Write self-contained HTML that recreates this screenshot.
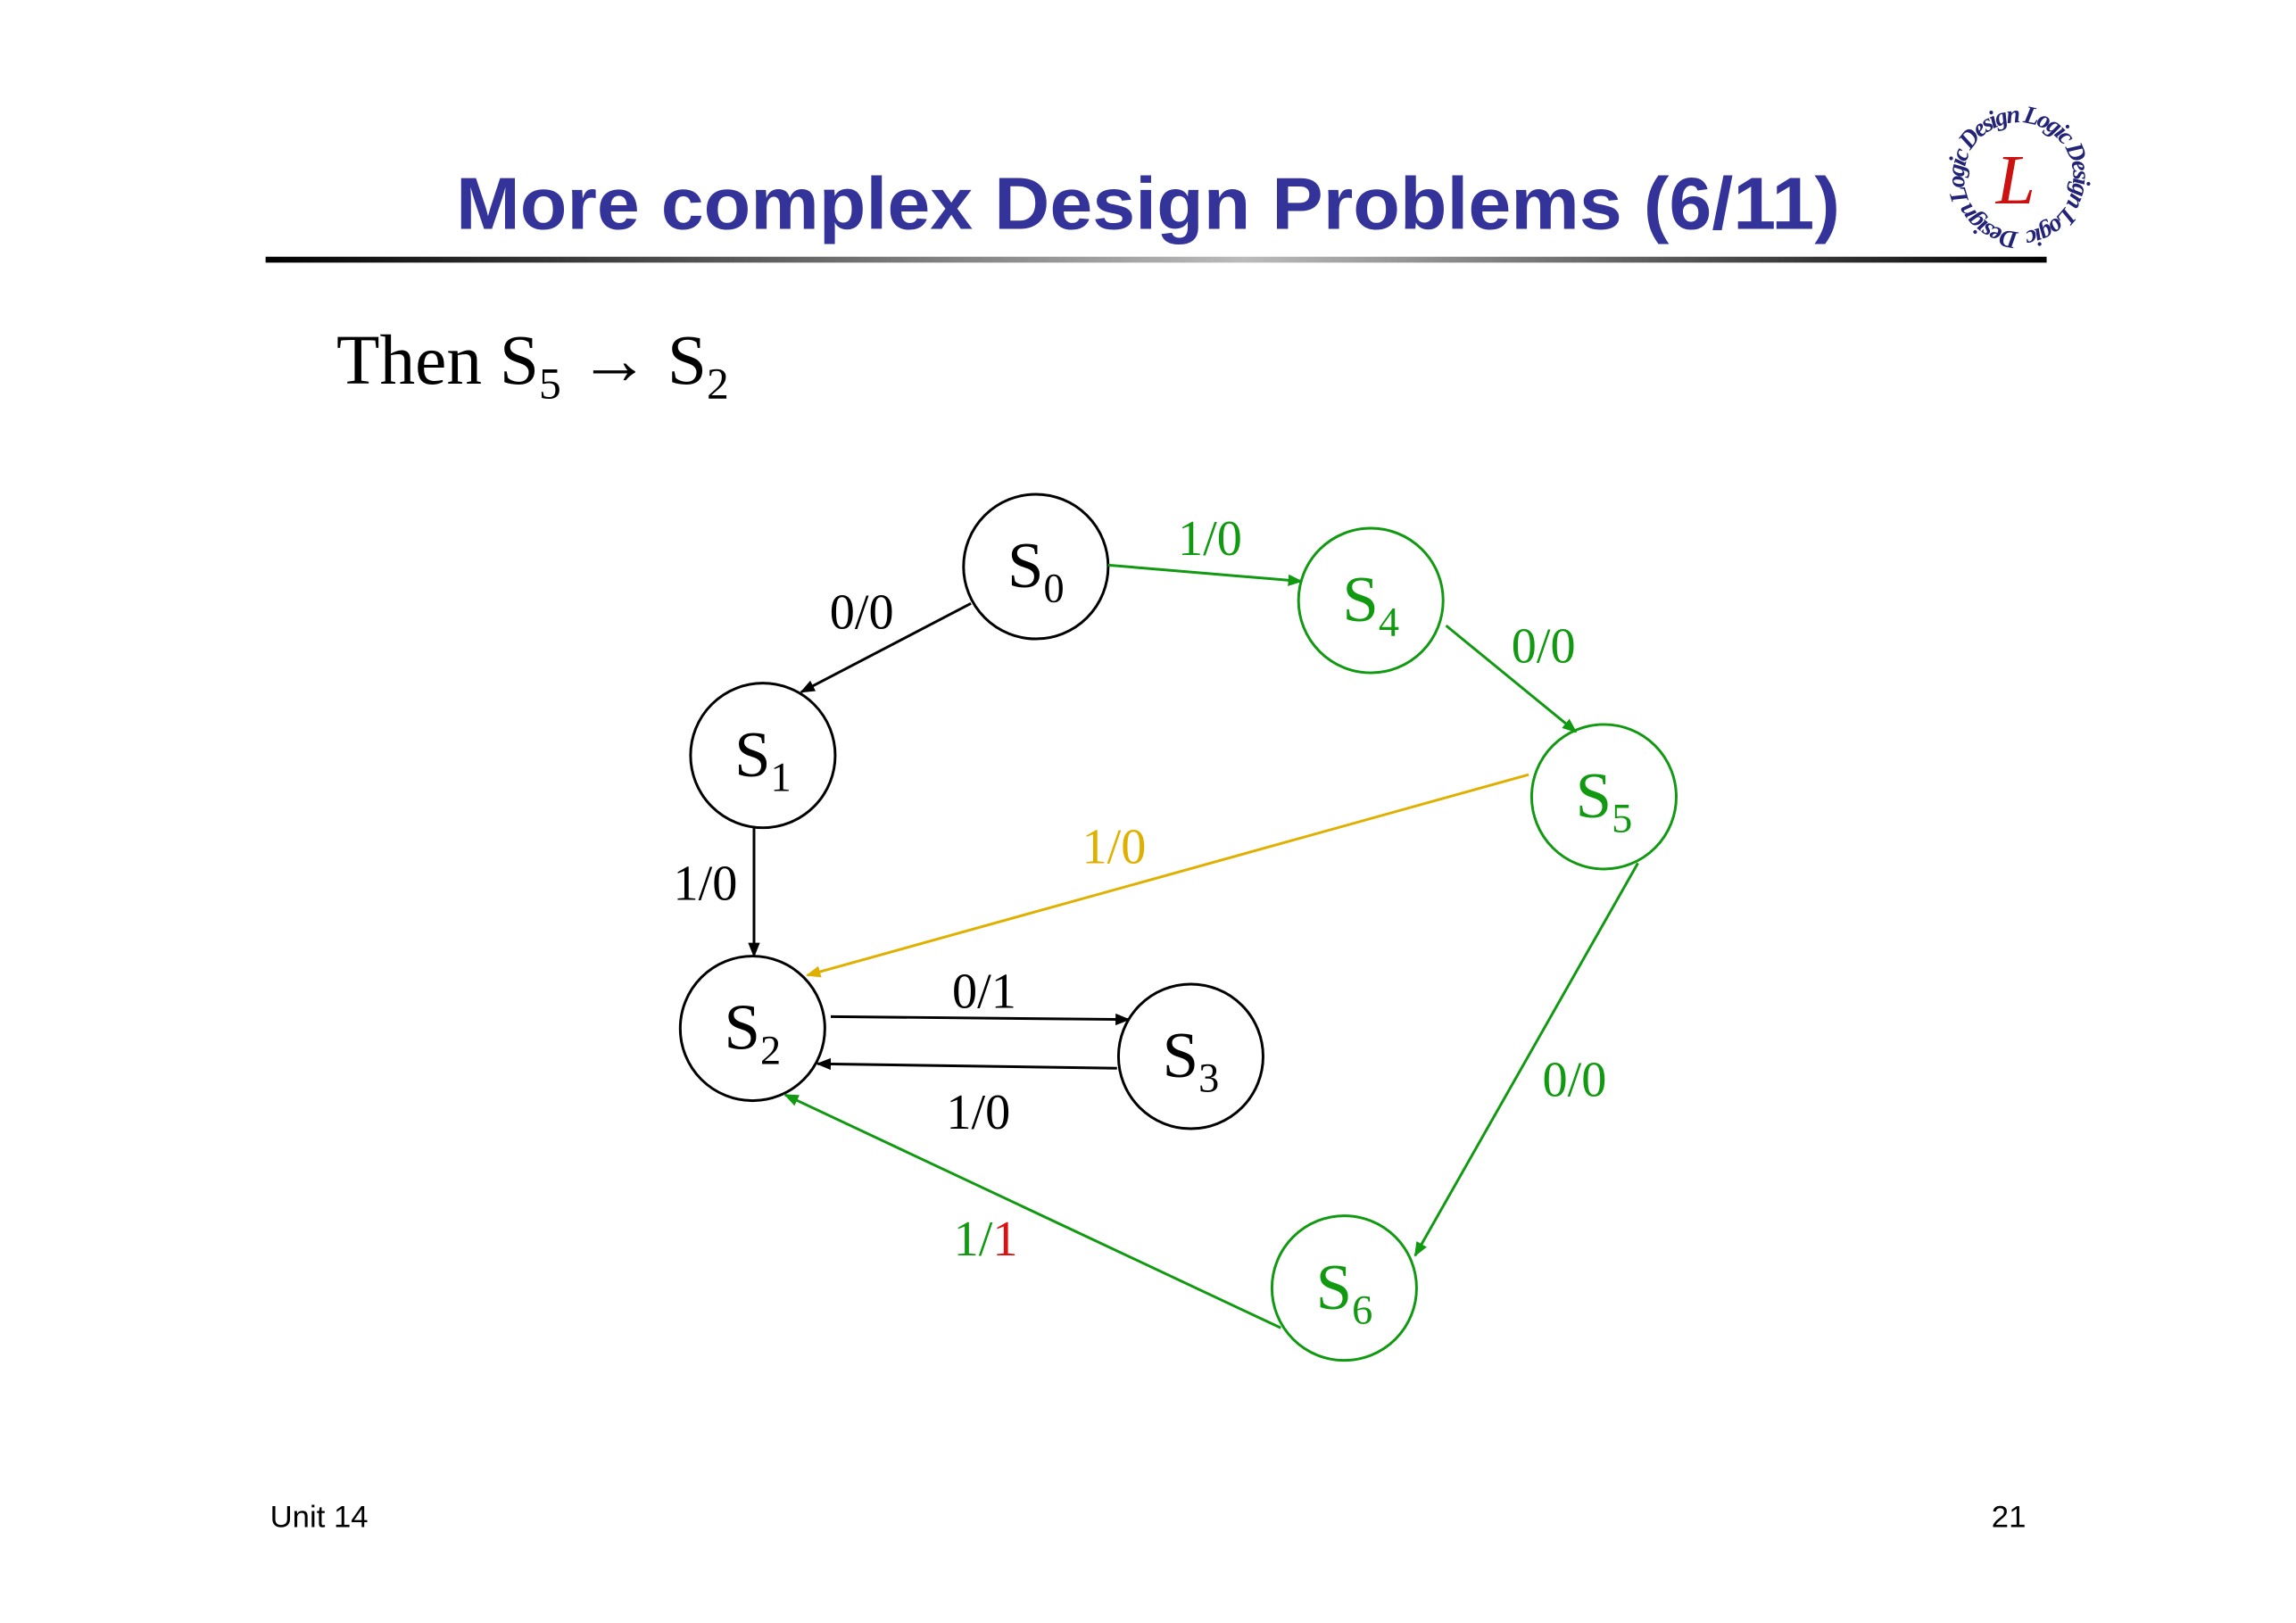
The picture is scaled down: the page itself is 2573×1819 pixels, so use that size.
<!DOCTYPE html>
<html><head><meta charset="utf-8"><style>
html,body{margin:0;padding:0;background:#fff;}
svg{display:block;}
</style></head><body>
<svg width="2573" height="1819" viewBox="0 0 1556 1100" preserveAspectRatio="none" xmlns="http://www.w3.org/2000/svg">
<defs>
<linearGradient id="lg" x1="0" x2="1" y1="0" y2="0">
<stop offset="0" stop-color="#000"/><stop offset="0.55" stop-color="#bbb"/><stop offset="1" stop-color="#000"/>
</linearGradient>
<marker id="ak" markerWidth="10" markerHeight="8" refX="9" refY="4" orient="auto" markerUnits="userSpaceOnUse"><path d="M0,0 L10,4 L0,8 z" fill="#000"/></marker>
<marker id="ag" markerWidth="10" markerHeight="8" refX="9" refY="4" orient="auto" markerUnits="userSpaceOnUse"><path d="M0,0 L10,4 L0,8 z" fill="#119911"/></marker>
<marker id="ay" markerWidth="10" markerHeight="8" refX="9" refY="4" orient="auto" markerUnits="userSpaceOnUse"><path d="M0,0 L10,4 L0,8 z" fill="#e0b000"/></marker>
<path id="ring" d="M1368,157 A37,37 0 1,1 1368.1,157"/>
</defs>
<text x="778" y="155" text-anchor="middle" font-family="Liberation Sans, sans-serif" font-weight="bold" font-size="50" fill="#333399" textLength="938" lengthAdjust="spacingAndGlyphs">More complex Design Problems (6/11)</text>
<rect x="180" y="174" width="1207" height="4" fill="url(#lg)"/>
<g font-family="Liberation Serif, serif" font-style="italic" fill="#222277">
<text x="1366" y="138" text-anchor="middle" font-size="48" fill="#cc1111">L</text>
<text font-size="17" font-weight="bold"><textPath href="#ring" textLength="228">Design Logic Design Logic Design Logic</textPath></text>
</g>
<text x="228" y="260" font-family="Liberation Serif, serif" font-size="48" fill="#000">Then S<tspan font-size="30" dy="10">5</tspan><tspan dy="-10"> → S</tspan><tspan font-size="30" dy="10">2</tspan></text>
<g fill="none" stroke-width="1.8">
<circle cx="702" cy="384" r="49" stroke="#000"/>
<circle cx="929" cy="407" r="49" stroke="#119911"/>
<circle cx="517" cy="512" r="49" stroke="#000"/>
<circle cx="1087" cy="540" r="49" stroke="#119911"/>
<circle cx="510" cy="697" r="49" stroke="#000"/>
<circle cx="807" cy="716" r="49" stroke="#000"/>
<circle cx="911" cy="873" r="49" stroke="#119911"/>
<line x1="658" y1="409" x2="543" y2="469" stroke="#000" marker-end="url(#ak)"/>
<line x1="751" y1="383" x2="882" y2="394" stroke="#119911" marker-end="url(#ag)"/>
<line x1="980" y1="424" x2="1068" y2="496" stroke="#119911" marker-end="url(#ag)"/>
<line x1="1036" y1="525" x2="547" y2="661" stroke="#e0b000" marker-end="url(#ay)"/>
<line x1="511" y1="561" x2="511" y2="648" stroke="#000" marker-end="url(#ak)"/>
<line x1="563" y1="689" x2="765" y2="691" stroke="#000" marker-end="url(#ak)"/>
<line x1="757" y1="724" x2="554" y2="721" stroke="#000" marker-end="url(#ak)"/>
<line x1="1110" y1="585" x2="959" y2="851" stroke="#119911" marker-end="url(#ag)"/>
<line x1="868" y1="900" x2="532" y2="742" stroke="#119911" marker-end="url(#ag)"/>
</g>
<g font-family="Liberation Serif, serif" font-size="44" text-anchor="middle">
<text x="702" y="398" fill="#000">S<tspan font-size="28" dy="10">0</tspan></text>
<text x="929" y="421" fill="#119911">S<tspan font-size="28" dy="10">4</tspan></text>
<text x="517" y="526" fill="#000">S<tspan font-size="28" dy="10">1</tspan></text>
<text x="1087" y="554" fill="#119911">S<tspan font-size="28" dy="10">5</tspan></text>
<text x="510" y="711" fill="#000">S<tspan font-size="28" dy="10">2</tspan></text>
<text x="807" y="730" fill="#000">S<tspan font-size="28" dy="10">3</tspan></text>
<text x="911" y="887" fill="#119911">S<tspan font-size="28" dy="10">6</tspan></text>
</g>
<g font-family="Liberation Serif, serif" font-size="34" text-anchor="middle">
<text x="584" y="426" fill="#000">0/0</text>
<text x="820" y="376" fill="#119911">1/0</text>
<text x="1046" y="449" fill="#119911">0/0</text>
<text x="755" y="585" fill="#e0b000">1/0</text>
<text x="478" y="610" fill="#000">1/0</text>
<text x="667" y="683" fill="#000">0/1</text>
<text x="663" y="765" fill="#000">1/0</text>
<text x="1067" y="743" fill="#119911">0/0</text>
<text x="668" y="851" fill="#119911">1/<tspan fill="#dd1111">1</tspan></text>
</g>
<text x="183" y="1035" font-family="Liberation Sans, sans-serif" font-size="21" fill="#000">Unit 14</text>
<text x="1373" y="1035" text-anchor="end" font-family="Liberation Sans, sans-serif" font-size="21" fill="#000">21</text>
</svg>
</body></html>
